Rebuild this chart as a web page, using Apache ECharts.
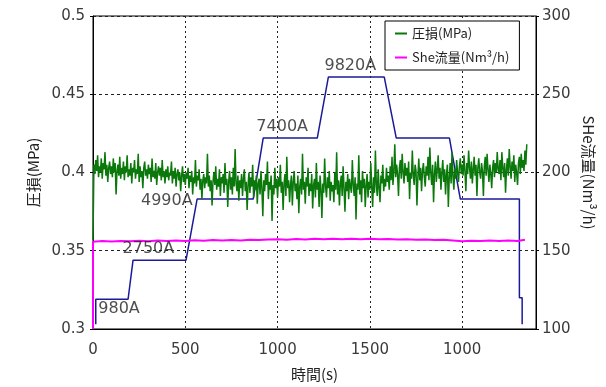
<!DOCTYPE html>
<html lang="ja">
<head>
<meta charset="utf-8">
<script src="https://cdn.jsdelivr.net/npm/echarts@6/dist/echarts.min.js"></script>
<style>
  html, body { margin: 0; padding: 0; background: #fff; }
  #chart { width: 606px; height: 387px; }
</style>
</head>
<body>
<div id="chart"></div>
<script>
// x axis tick labels (the last one reads 1000 in the source figure)
var xTickValues = [0, 500, 1000, 1500, 2000];
var xTickLabels = ['0', '500', '1000', '1500', '1000'];

// 圧損 (MPa), sampled every 5 s from t = 0
var lossStep = 5;
var lossValues = [
  0.357, 0.405, 0.399, 0.408, 0.401, 0.411, 0.397, 0.404, 0.400, 0.409, 0.396, 0.406, 0.402, 0.413, 0.398, 0.405, 0.394, 0.403, 0.407, 0.399,
  0.404, 0.397, 0.409, 0.400, 0.406, 0.386, 0.401, 0.405, 0.398, 0.410, 0.396, 0.403, 0.399, 0.407, 0.395, 0.404, 0.400, 0.411, 0.397, 0.402,
  0.398, 0.406, 0.393, 0.403, 0.400, 0.408, 0.396, 0.402, 0.399, 0.412, 0.394, 0.404, 0.397, 0.401, 0.390, 0.403, 0.407, 0.398, 0.402, 0.396,
  0.405, 0.399, 0.403, 0.394, 0.409, 0.397, 0.401, 0.396, 0.406, 0.392, 0.400, 0.404, 0.398, 0.403, 0.395, 0.408, 0.397, 0.401, 0.393, 0.402,
  0.397, 0.404, 0.395, 0.400, 0.398, 0.407, 0.393, 0.401, 0.396, 0.403, 0.391, 0.399, 0.402, 0.395, 0.400, 0.388, 0.398, 0.404, 0.394, 0.399,
  0.392, 0.400, 0.396, 0.403, 0.390, 0.398, 0.394, 0.401, 0.386, 0.397, 0.393, 0.408, 0.391, 0.398, 0.395, 0.402, 0.389, 0.396, 0.383, 0.395,
  0.399, 0.390, 0.397, 0.393, 0.412, 0.391, 0.398, 0.388, 0.395, 0.379, 0.394, 0.400, 0.392, 0.404, 0.389, 0.396, 0.391, 0.402, 0.385, 0.397,
  0.393, 0.399, 0.387, 0.406, 0.392, 0.396, 0.378, 0.394, 0.401, 0.389, 0.397, 0.386, 0.403, 0.391, 0.415, 0.393, 0.388, 0.398, 0.382, 0.395,
  0.390, 0.399, 0.385, 0.396, 0.402, 0.388, 0.394, 0.376, 0.392, 0.400, 0.387, 0.397, 0.391, 0.405, 0.384, 0.395, 0.389, 0.398, 0.380, 0.393,
  0.396, 0.386, 0.401, 0.390, 0.372, 0.395, 0.388, 0.399, 0.392, 0.407, 0.383, 0.394, 0.389, 0.398, 0.369, 0.392, 0.386, 0.403, 0.390, 0.396,
  0.384, 0.397, 0.391, 0.405, 0.387, 0.394, 0.376, 0.393, 0.399, 0.385, 0.410, 0.390, 0.395, 0.381, 0.392, 0.398, 0.379, 0.394, 0.401, 0.388,
  0.393, 0.383, 0.398, 0.374, 0.391, 0.396, 0.386, 0.412, 0.389, 0.394, 0.380, 0.397, 0.391, 0.403, 0.385, 0.393, 0.388, 0.399, 0.377, 0.392,
  0.396, 0.384, 0.406, 0.389, 0.394, 0.378, 0.398, 0.390, 0.371, 0.393, 0.387, 0.409, 0.391, 0.384, 0.397, 0.390, 0.401, 0.382, 0.394, 0.388,
  0.392, 0.381, 0.400, 0.389, 0.413, 0.386, 0.395, 0.379, 0.393, 0.398, 0.385, 0.404, 0.390, 0.375, 0.394, 0.388, 0.399, 0.383, 0.396, 0.391,
  0.387, 0.408, 0.392, 0.385, 0.397, 0.370, 0.393, 0.389, 0.411, 0.386, 0.395, 0.381, 0.401, 0.390, 0.396, 0.378, 0.392, 0.399, 0.384, 0.394,
  0.389, 0.406, 0.391, 0.378, 0.397, 0.387, 0.414, 0.392, 0.385, 0.402, 0.390, 0.381, 0.398, 0.393, 0.405, 0.388, 0.396, 0.391, 0.403, 0.394,
  0.398, 0.389, 0.404, 0.395, 0.410, 0.392, 0.401, 0.418, 0.397, 0.405, 0.399, 0.385, 0.403, 0.408, 0.396, 0.412, 0.400, 0.393, 0.406, 0.398,
  0.403, 0.394, 0.407, 0.383, 0.400, 0.396, 0.414, 0.398, 0.392, 0.405, 0.401, 0.379, 0.397, 0.409, 0.395, 0.403, 0.388, 0.401, 0.406, 0.397,
  0.391, 0.404, 0.398, 0.410, 0.395, 0.416, 0.400, 0.392, 0.405, 0.381, 0.399, 0.407, 0.394, 0.402, 0.411, 0.396, 0.403, 0.389, 0.400, 0.408,
  0.394, 0.402, 0.386, 0.399, 0.405, 0.378, 0.397, 0.406, 0.393, 0.413, 0.398, 0.389, 0.402, 0.396, 0.408, 0.400, 0.394, 0.404, 0.409, 0.399,
  0.405, 0.398, 0.411, 0.401, 0.388, 0.406, 0.399, 0.414, 0.403, 0.396, 0.407, 0.393, 0.402, 0.410, 0.398, 0.405, 0.385, 0.403, 0.409, 0.400,
  0.396, 0.406, 0.401, 0.385, 0.404, 0.410, 0.398, 0.412, 0.402, 0.394, 0.405, 0.399, 0.390, 0.403, 0.408, 0.397, 0.406, 0.400, 0.413, 0.402,
  0.399, 0.408, 0.395, 0.413, 0.403, 0.397, 0.406, 0.387, 0.402, 0.409, 0.398, 0.415, 0.404, 0.396, 0.407, 0.401, 0.411, 0.394, 0.405, 0.400,
  0.392, 0.406, 0.410, 0.399, 0.412, 0.403, 0.408, 0.401, 0.414, 0.405, 0.418
];

// She流量 (Nm3/h)
var flowTimes = [0, 0, 50, 100, 150, 200, 250, 300, 350, 400, 450, 500, 550, 600, 650, 700,
  750, 800, 850, 900, 950, 1000, 1050, 1100, 1150, 1200, 1250, 1300, 1350, 1400, 1450,
  1500, 1550, 1600, 1650, 1700, 1750, 1800, 1850, 1900, 1950, 2000, 2050, 2100, 2150,
  2200, 2250, 2300, 2340];
var flowValues = [100, 155.8, 156.2, 155.9, 156.3, 156.0, 156.4, 156.1, 156.5, 156.2, 156.6,
  156.3, 156.7, 156.4, 156.8, 156.5, 156.9, 156.6, 157.0, 156.8, 157.2, 157.4, 157.1,
  157.5, 157.2, 157.6, 157.3, 157.7, 157.4, 157.6, 157.3, 157.7, 157.4, 157.5, 157.2,
  157.4, 157.0, 157.2, 156.8, 157.0, 156.6, 156.0, 156.4, 156.2, 156.6, 156.3, 156.5,
  156.2, 157.0];

// current steps, drawn on the left scale
var stepTimes = [15, 15, 190, 217, 504, 564, 868, 922, 1215, 1275, 1578, 1643, 1931, 1990, 2310, 2310, 2325, 2325];
var stepValues = [0.303, 0.319, 0.319, 0.344, 0.344, 0.383, 0.383, 0.422, 0.422, 0.461, 0.461, 0.422, 0.422, 0.383, 0.383, 0.320, 0.320, 0.303];

// step annotations
var noteTimes = [141, 300, 400, 1025, 1394];
var noteValues = [0.3127, 0.351, 0.382, 0.4293, 0.468];
var noteTexts = ['980A', '2750A', '4990A', '7400A', '9820A'];

var lossData = lossValues.map(function (v, i) { return [i * lossStep, v]; });
var flowData = flowTimes.map(function (t, i) { return [t, flowValues[i]]; });
var stepData = stepTimes.map(function (t, i) { return [t, stepValues[i]]; });
var noteData = noteTimes.map(function (t, i) { return [t, noteValues[i], noteTexts[i]]; });

var FONT = 'DejaVu Sans';
var chart = echarts.init(document.getElementById('chart'));
chart.setOption({
  animation: false,
  backgroundColor: '#fff',
  textStyle: { fontFamily: FONT },
  grid: { left: 93, right: 70, top: 16, bottom: 57, show: true, borderColor: '#000', borderWidth: 1 },
  legend: {
    data: ['圧損(MPa)', 'She流量(Nm³/h)'],
    orient: 'vertical',
    left: 385, top: 21,
    width: 144, height: 49,
    padding: [6, 10, 6, 10],
    itemGap: 11,
    itemWidth: 12, itemHeight: 2,
    icon: 'rect',
    borderColor: '#000', borderWidth: 1,
    backgroundColor: '#fff',
    textStyle: { fontSize: 13, color: '#222', fontFamily: 'Noto Sans CJK JP' }
  },
  xAxis: {
    type: 'value', min: 0, max: 2400, interval: 500,
    name: '時間(s)', nameLocation: 'middle', nameGap: 38,
    nameTextStyle: { fontSize: 15, color: '#222', fontFamily: 'Noto Sans CJK JP' },
    axisLine: { show: true, lineStyle: { color: '#000' } },
    axisTick: { show: false },
    axisLabel: {
      fontSize: 15, color: '#3a3a3a', margin: 14,
      formatter: function (v) {
        var k = xTickValues.indexOf(v);
        return k < 0 ? '' : xTickLabels[k];
      }
    },
    splitLine: { show: true, lineStyle: { color: '#222', type: [2, 3], width: 1 } }
  },
  yAxis: [{
    type: 'value', min: 0.3, max: 0.5, interval: 0.05,
    name: '圧損(MPa)', nameLocation: 'middle', nameGap: 49, nameRotate: 90,
    nameTextStyle: { fontSize: 15, color: '#222', fontFamily: 'Noto Sans CJK JP' },
    axisLine: { show: true, lineStyle: { color: '#000' } },
    axisTick: { show: true, length: 3, lineStyle: { color: '#000' } },
    axisLabel: { fontSize: 15, color: '#3a3a3a', margin: 8 },
    splitLine: { show: true, lineStyle: { color: '#222', type: [3, 3], width: 1 } }
  }, {
    type: 'value', min: 100, max: 300, interval: 50, position: 'right',
    name: 'SHe流量(Nm³/h)', nameLocation: 'middle', nameGap: 44, nameRotate: -90,
    nameTextStyle: { fontSize: 15, color: '#222', fontFamily: 'Noto Sans CJK JP' },
    axisLine: { show: true, lineStyle: { color: '#000' } },
    axisTick: { show: true, length: 3, lineStyle: { color: '#000' } },
    axisLabel: { fontSize: 15, color: '#3a3a3a', margin: 6 },
    splitLine: { show: false }
  }],
  series: [{
    name: '圧損(MPa)', type: 'line', yAxisIndex: 0, data: lossData,
    showSymbol: false, color: '#0a780a',
    lineStyle: { width: 1.5, color: '#0a780a' }, z: 3
  }, {
    name: 'She流量(Nm³/h)', type: 'line', yAxisIndex: 1, data: flowData,
    showSymbol: false, color: '#ff00ff',
    lineStyle: { width: 2, color: '#ff00ff' }, z: 4
  }, {
    name: 'current', type: 'line', yAxisIndex: 0, data: stepData,
    showSymbol: false, color: '#1a1a9a',
    lineStyle: { width: 1.5, color: '#1a1a9a' }, z: 2
  }, {
    name: 'notes', type: 'scatter', yAxisIndex: 0, data: noteData,
    symbolSize: 0, silent: true, z: 5,
    label: {
      show: true, position: 'inside', fontSize: 16, color: '#222',
      formatter: function (p) { return p.value[2]; }
    }
  }]
});
</script>
</body>
</html>
